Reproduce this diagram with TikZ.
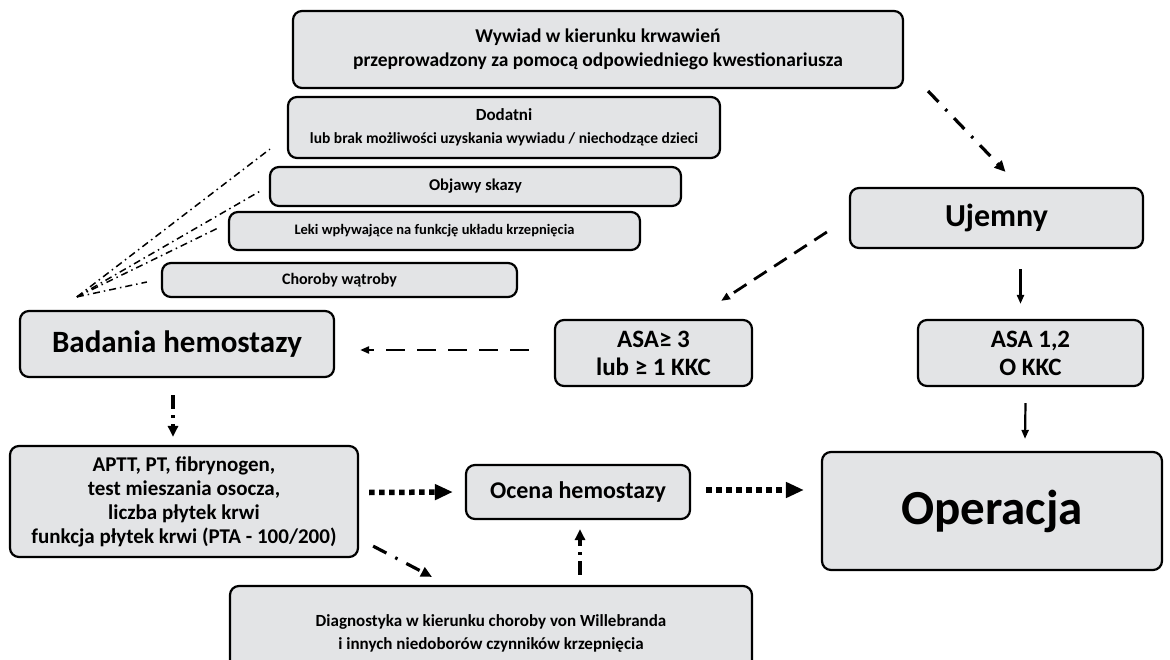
\documentclass[tikz,border=0pt]{standalone}
\usepackage{fontspec}
\setmainfont{Carlito}
\usetikzlibrary{arrows.meta,calc}
\definecolor{boxfill}{RGB}{227,228,230}
\newcommand\fsz[2]{\fontsize{#1}{#2}\selectfont\bfseries}
\tikzset{
  box/.style={draw=black, line width=2.2pt, fill=boxfill, rounded corners=9pt,
    align=center, inner sep=0pt},
  tip/.style={-{Triangle[length=11pt,width=10pt]}},
  smalltip/.style={-{Triangle[length=9pt,width=7pt]}},
  ddarrow/.style={tip, line width=3.2pt, dash pattern=on 15pt off 10pt on 2.5pt off 10pt},
  dasharrow/.style={smalltip, line width=2.8pt, dash pattern=on 15pt off 9pt},
  longdash/.style={smalltip, line width=2.8pt, dash pattern=on 19pt off 12pt},
  dotarrow/.style={-{Triangle[length=18pt,width=15pt]}, line width=5.5pt, dash pattern=on 5.5pt off 4.5pt},
  solidarrow/.style={smalltip, line width=2.2pt},
  vdd/.style={tip, line width=3.2pt, dash pattern=on 14pt off 6pt on 3pt off 6pt},
  thindd/.style={line width=1.5pt, dash pattern=on 7pt off 4pt on 1.5pt off 4pt},
}
\begin{document}
\begin{tikzpicture}[x=1pt,y=-1pt]
\useasboundingbox (0,0) rectangle (1170,660);

\node[box, minimum width=610, minimum height=77, font=\fsz{19.5}{24}] (wyw) at (598,49.5)
  {Wywiad w kierunku krwawień\\przeprowadzony za pomocą odpowiedniego kwestionariusza};
\node[box, minimum width=432, minimum height=61, font=\fsz{15.5}{23}] (dod) at (504,127.5)
  {{\fsz{17}{23}Dodatni}\\lub brak możliwości uzyskania wywiadu / niechodzące dzieci};
\node[box, minimum width=411, minimum height=39, font=\fsz{16.5}{20}] (obj) at (475.5,186.5) {Objawy skazy};
\node[box, minimum width=411, minimum height=38, font=\fsz{14.5}{17}] (leki) at (434.5,231)
  {Leki wpływające na funkcję układu krzepnięcia};
\node[box, minimum width=355, minimum height=34, font=\fsz{16}{19}] (chor) at (339.5,280) {Choroby wątroby};
\node[box, minimum width=293, minimum height=60, font=\fsz{32}{36}] (uje) at (996.5,218) {Ujemny};
\node[box, minimum width=314, minimum height=66, font=\fsz{31}{34}] (bad) at (177,344) {Badania hemostazy};
\node[box, minimum width=197, minimum height=66, font=\fsz{25}{28}] (asa3) at (653.5,353) {ASA≥ 3\\lub ≥ 1 KKC};
\node[box, minimum width=225, minimum height=66, font=\fsz{25}{28}] (asa12) at (1030.5,353) {ASA 1,2\\O KKC};
\node[box, minimum width=348, minimum height=111, font=\fsz{21}{24}] (aptt) at (184,501.5)
  {APTT, PT, fibrynogen,\\test mieszania osocza,\\liczba płytek krwi\\funkcja płytek krwi (PTA - 100/200)};
\node[box, minimum width=224, minimum height=54, font=\fsz{24}{27}] (ocena) at (578,492) {Ocena hemostazy};
\node[box, minimum width=340, minimum height=118, font=\fsz{49}{52}] (oper) at (992,511) {Operacja};
\node[box, minimum width=522, minimum height=94, font=\fsz{17}{23}] (diag) at (491,633)
  {Diagnostyka w kierunku choroby von Willebranda\\i innych niedoborów czynników krzepnięcia};

% connectors
\draw[ddarrow] ($(wyw.south east)+(24,2)$) -- ($(uje.north)+(9,-15)$);
\draw[dasharrow] ($(uje.west)+(-22,14)$) -- ($(asa3.north east)+(-32,-18)$);
\draw[solidarrow] ($(uje.south)+(24,20)$) -- ($(asa12.north)+(-10,-15)$);
\draw[solidarrow] ($(asa12.south)+(-5,16)$) -- ($(oper.north)+(33,-12)$);
\draw[longdash] ($(asa3.west)+(-25,-3)$) -- ($(bad.east)+(25,6)$);
\draw[vdd] ($(bad.south)+(-4,17)$) -- ($(aptt.north)+(-11,-8)$);
\draw[dotarrow] ($(aptt.east)+(10,-9)$) -- ($(ocena.west)+(-12,0)$);
\draw[dotarrow] ($(ocena.east)+(15,-2)$) -- ($(oper.west)+(-17,-21)$);
\draw[ddarrow] ($(aptt.south east)+(14,-12)$) -- ($(diag.north)+(-59,-8)$);
\draw[vdd] ($(diag.north)+(89,-10)$) -- ($(ocena.south)+(2,9)$);

% thin dash-dot fan
\coordinate (hub) at ($(bad.north west)+(58,-13)$);
\draw[thindd] (hub) -- ($(dod.south west)+(-17,-10)$);
\draw[thindd] (hub) -- ($(obj.south west)+(-7,-17)$);
\draw[thindd] (hub) -- ($(leki.south west)+(-10,-23)$);
\draw[thindd] (hub) -- ($(chor.west)+(-14,2)$);
\end{tikzpicture}
\end{document}
